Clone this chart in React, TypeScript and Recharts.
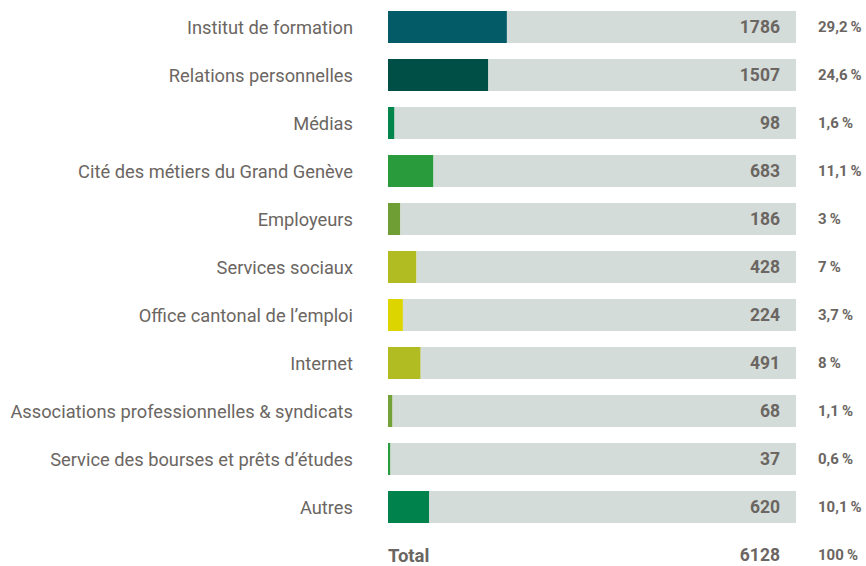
import React from "react";
import { BarChart, Bar, XAxis, YAxis, Cell, LabelList } from "recharts";

const categories = [
  "Institut de formation",
  "Relations personnelles",
  "Médias",
  "Cité des métiers du Grand Genève",
  "Employeurs",
  "Services sociaux",
  "Office cantonal de l’emploi",
  "Internet",
  "Associations professionnelles & syndicats",
  "Service des bourses et prêts d’études",
  "Autres",
];
const counts = [1786, 1507, 98, 683, 186, 428, 224, 491, 68, 37, 620];
const percents = ["29,2", "24,6", "1,6", "11,1", "3", "7", "3,7", "8", "1,1", "0,6", "10,1"];
const colors = [
  "#025b67", "#004f47", "#00864c", "#2a9b3c", "#6e9e34", "#b0bc22",
  "#dcd500", "#b0bc22", "#72a238", "#2a9b3c", "#00824d",
];
const totalLabel = "Total";
const total = 6128;
const totalPercent = "100";

const TRACK = "#d4dcd9";
const TEXT = "#6b6662";
const FONT = "Roboto, 'Liberation Sans', sans-serif";

const data = [
  ...categories.map((c, i) => ({
    name: c,
    count: counts[i],
    rest: total - counts[i],
    pct: percents[i] + "\u2009%",
  })),
  { name: totalLabel, count: 0, rest: total, shown: total, pct: totalPercent + "\u2009%" },
].map((d: any) => ({ ...d, shown: d.shown ?? d.count }));

const Tick = (props: any) => {
  const { x, y, payload } = props;
  if (payload.value === totalLabel) {
    return (
      <text x={x} y={y} dy="0.36em" textAnchor="start" fill={TEXT} fontFamily={FONT} fontSize={18.5} fontWeight={700}>
        {payload.value}
      </text>
    );
  }
  return (
    <text x={x - 35} y={y} dy="0.36em" textAnchor="end" fill={TEXT} fontFamily={FONT} fontSize={18.3}>
      {payload.value}
    </text>
  );
};

const CountLabel = (props: any) => {
  const { x, y, width, height, value } = props;
  return (
    <text x={x + width - 16} y={y + height / 2} dy="0.36em" textAnchor="end" fill={TEXT} fontFamily={FONT} fontSize={17.5} fontWeight={700}>
      {value}
    </text>
  );
};

const PctLabel = (props: any) => {
  const { x, y, width, height, value } = props;
  return (
    <text x={x + width + 22} y={y + height / 2} dy="0.36em" textAnchor="start" fill={TEXT} fontFamily={FONT} fontSize={15} fontWeight={700}>
      {value}
    </text>
  );
};

export default function App() {
  return (
    <div style={{ position: "absolute", left: 0, top: 0, width: 866, height: 566, overflow: "hidden", background: "#fff" }}>
      <BarChart
        width={866}
        height={580}
        data={data}
        layout="vertical"
        margin={{ top: 3, right: 70, bottom: 1, left: 0 }}
        barCategoryGap={16}
      >
        <XAxis type="number" domain={[0, total]} hide />
        <YAxis
          type="category"
          dataKey="name"
          width={388}
          axisLine={false}
          tickLine={false}
          tickSize={0}
          tickMargin={0}
          tick={<Tick />}
          interval={0}
        />
        <Bar dataKey="count" stackId="a" barSize={32} isAnimationActive={false}>
          {data.map((d, i) => (
            <Cell key={i} fill={i < colors.length ? colors[i] : "transparent"} />
          ))}
        </Bar>
        <Bar dataKey="rest" stackId="a" barSize={32} isAnimationActive={false}>
          {data.map((d, i) => (
            <Cell key={i} fill={i < colors.length ? TRACK : "transparent"} />
          ))}
          <LabelList dataKey="shown" content={<CountLabel />} />
          <LabelList dataKey="pct" content={<PctLabel />} />
        </Bar>
      </BarChart>
    </div>
  );
}
